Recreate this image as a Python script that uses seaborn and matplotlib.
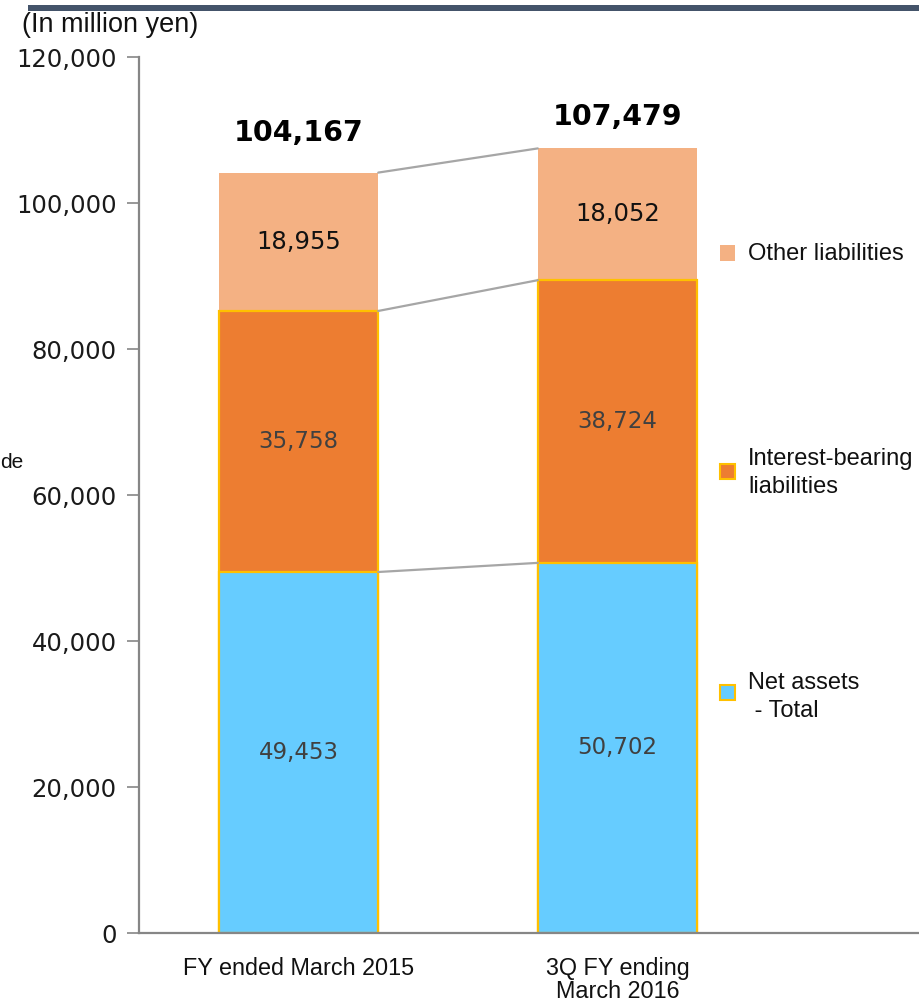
import matplotlib
matplotlib.use("Agg")
import matplotlib.pyplot as plt
import seaborn as sns
import numpy as np
from matplotlib.patches import Rectangle

categories = ["FY ended March 2015", "3Q FY ending\nMarch 2016"]
net_assets = [49453, 50702]
interest_bearing = [35758, 38724]
other_liab = [18955, 18052]
totals = [104167, 107479]
yticks = [0, 20000, 40000, 60000, 80000, 100000, 120000]
legend_labels = ["Other liabilities", "Interest-bearing\nliabilities", "Net assets\n - Total"]

c_blue = "#66CCFF"
c_orange = "#ED7D31"
c_peach = "#F4B183"
c_edge = "#FFC000"
spine_col = "#868686"

sns.set_theme(style="white")
plt.rcParams['font.family'] = ['DejaVu Sans']

W, H = 919, 1005
fig = plt.figure(figsize=(W / 100, H / 100), dpi=100)
ax = fig.add_axes([139 / W, 1 - 933 / H, (W - 139) / W, (933 - 57) / H])

na = np.array(net_assets)
ib = np.array(interest_bearing)
ol = np.array(other_liab)
lvl1 = na
lvl2 = na + ib
lvl3 = na + ib + ol

sns.barplot(x=categories, y=lvl3, color=c_peach, width=0.5, saturation=1,
            edgecolor="none", linewidth=0, ax=ax)
sns.barplot(x=categories, y=lvl2, color=c_orange, width=0.5, saturation=1,
            edgecolor=c_edge, linewidth=1.6, ax=ax)
sns.barplot(x=categories, y=lvl1, color=c_blue, width=0.5, saturation=1,
            edgecolor=c_edge, linewidth=1.6, ax=ax)

ax.set_xlim(-0.5, 1.945)
ax.set_ylim(0, 120000)
ax.set_yticks(yticks)
ax.set_yticklabels([f"{v:,}" for v in yticks], fontsize=17.5, color="#1a1a1a")
ax.tick_params(axis="y", left=True, length=9, width=1.2, color=spine_col, pad=7)
ax.tick_params(axis="x", bottom=False, pad=11)
ax.set_xticks([0, 1])
ax.set_xticklabels(categories, fontsize=16.8, family="Liberation Sans", color="#111111",
                   linespacing=1.0, va="top")
ax.set_xlabel("")
ax.set_ylabel("")
for s in ["top", "right"]:
    ax.spines[s].set_visible(False)
for s in ["left", "bottom"]:
    ax.spines[s].set_color(spine_col)
    ax.spines[s].set_linewidth(1.6)

# connector lines
hw = 0.25
for a in [lvl1, lvl2, lvl3]:
    ax.plot([0 + hw, 1 - hw], [a[0], a[1]], color="#A6A6A6", lw=1.6, zorder=1)

# segment labels
for i in range(2):
    segs = [(0, lvl1[i], na[i], "#404040", 16.5),
            (lvl1[i], lvl2[i], ib[i], "#404040", 16.5),
            (lvl2[i], lvl3[i], ol[i], "#111111", 17.5)]
    for lo, hi, v, col, fs in segs:
        ax.text(i, (lo + hi) / 2, f"{v:,}", ha="center", va="center", fontsize=fs,
                color=col)

# totals
offs = [40, 31]
for i, t in enumerate(totals):
    ax.annotate(f"{t:,}", xy=(i, lvl3[i]), xytext=(0, offs[i] * 0.72), textcoords="offset points",
                ha="center", va="center", fontsize=20.5, fontweight="bold", color="black")

# legend
leg_cols = [c_peach, c_orange, c_blue]
leg_edges = ["none", c_edge, c_edge]
leg_y = [253, 472, 692]
text_y = [254, 473, 697]
for col, ec, y, ty, lab in zip(leg_cols, leg_edges, leg_y, text_y, legend_labels):
    fig.add_artist(Rectangle((720 / W, 1 - (y + 7.5) / H), 15 / W, 15 / H, transform=fig.transFigure,
                             facecolor=col, edgecolor=ec, linewidth=1.5))
    fig.text(748 / W, 1 - ty / H, lab, fontsize=17, family="Liberation Sans", ha="left",
             va="center", color="#111111", linespacing=1.4)

# header bar and unit label
fig.add_artist(Rectangle((28 / W, 1 - 11 / H), (W - 28) / W, 6 / H, transform=fig.transFigure,
                         facecolor="#44546A", edgecolor="none"))
fig.text(22 / W, 1 - 25 / H, "(In million yen)", fontsize=19.5, family="Liberation Sans",
         ha="left", va="center", color="#111111")
fig.text(0, 1 - 462 / H, "de", fontsize=15, family="Liberation Sans", ha="left",
         va="center", color="#111111")

fig.savefig("out.png", dpi=100)
